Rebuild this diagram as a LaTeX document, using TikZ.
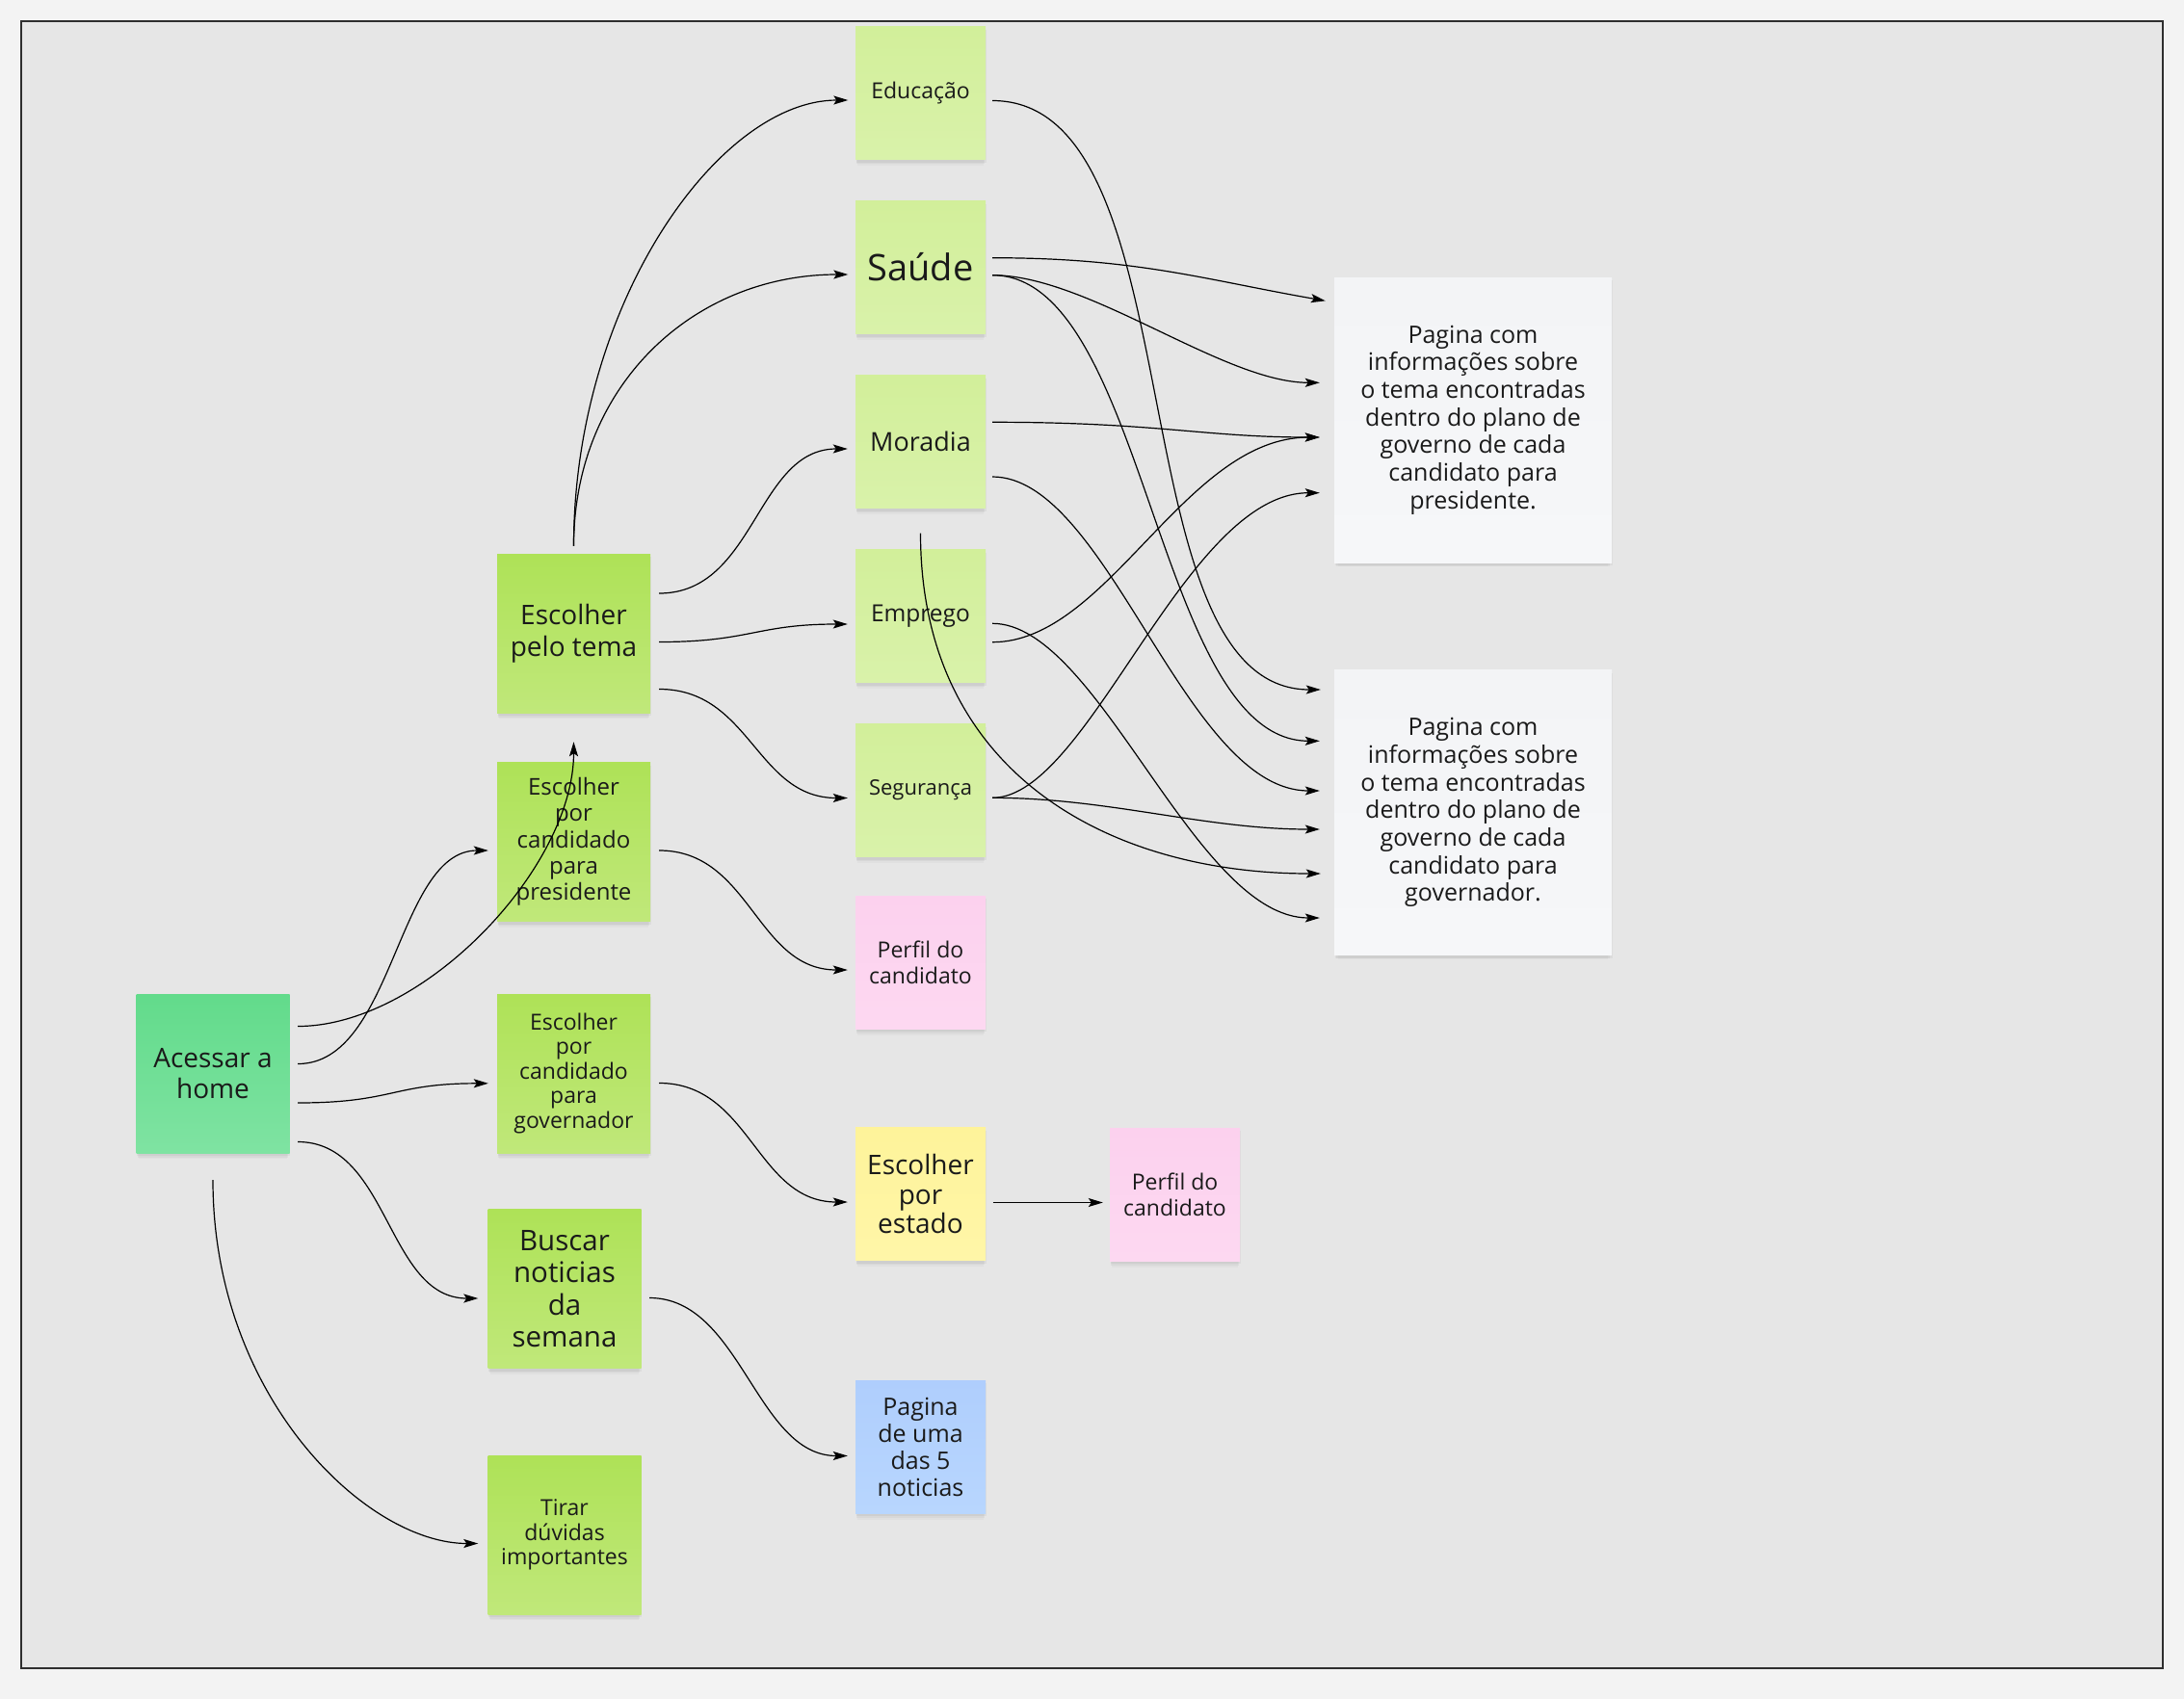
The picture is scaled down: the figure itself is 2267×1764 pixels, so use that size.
\documentclass[tikz,border=0pt]{standalone}
\usepackage{fontspec}
\setmainfont{Open Sans}
\usetikzlibrary{arrows.meta,shadows}
\definecolor{bgout}{HTML}{F3F3F3}
\definecolor{bgin}{HTML}{E6E6E6}
\definecolor{frame}{HTML}{2E2E2E}
\definecolor{txt}{HTML}{1A1A1A}
\definecolor{lgA}{HTML}{D2EF9A}
\definecolor{lgB}{HTML}{D9F2AA}
\definecolor{gA}{HTML}{AEE257}
\definecolor{gB}{HTML}{C0E87A}
\definecolor{hA}{HTML}{62DB8B}
\definecolor{hB}{HTML}{7FE3A2}
\definecolor{pkA}{HTML}{FCD1EE}
\definecolor{pkB}{HTML}{FDD8F1}
\definecolor{ylA}{HTML}{FEF39A}
\definecolor{ylB}{HTML}{FFF6A8}
\definecolor{blA}{HTML}{AFCEFD}
\definecolor{blB}{HTML}{B8D6FE}
\definecolor{wtA}{HTML}{F3F4F6}
\definecolor{wtB}{HTML}{F6F7F9}
\tikzset{
  note/.style={rectangle, inner sep=0pt, align=center, text=txt,
    drop shadow={shadow xshift=0pt, shadow yshift=-9pt, shadow scale=0.97, opacity=0.025, fill=black},
    drop shadow={shadow xshift=0pt, shadow yshift=-6pt, shadow scale=0.985, opacity=0.035, fill=black},
    drop shadow={shadow xshift=0.5pt, shadow yshift=-3pt, opacity=0.045, fill=black}},
  themebox/.style={note, minimum width=135pt, minimum height=138pt, top color=lgA, bottom color=lgB},
  midbox/.style={note, minimum width=159pt, minimum height=165pt, top color=gA, bottom color=gB},
  homebox/.style={note, minimum width=159pt, minimum height=165pt, top color=hA, bottom color=hB},
  pinkbox/.style={note, minimum width=135pt, minimum height=138pt, top color=pkA, bottom color=pkB},
  yellowbox/.style={note, minimum width=135pt, minimum height=138pt, top color=ylA, bottom color=ylB},
  bluebox/.style={note, minimum width=135pt, minimum height=138pt, top color=blA, bottom color=blB},
  pagebox/.style={note, minimum width=288pt, minimum height=296pt, top color=wtA, bottom color=wtB},
  conn/.style={draw=black, line width=1.2pt, -{Stealth[length=15pt,width=9pt,inset=3pt]}},
}
\newcommand{\fs}[2]{\fontsize{#1}{#2}\selectfont}
\begin{document}
\begin{tikzpicture}[x=1pt,y=1pt]
\useasboundingbox (0,0) rectangle (2267,-1764);
\fill[bgout] (0,0) rectangle (2267,-1764);
\draw[fill=bgin, draw=frame, line width=2pt] (21.7,-21.7) rectangle (2245,-1732);

% theme column
\node[themebox, font=\fs{23}{26}] (edu) at (955.5,-96.5) {Educação};
\node[themebox, font=\fs{38}{42}] (sau) at (955.5,-277.5) {Saúde};
\node[themebox, font=\fs{27}{30}] (mor) at (955.5,-458.5) {Moradia};
\node[themebox, font=\fs{24.5}{28}] (emp) at (955.5,-639.5) {Emprego};
\node[themebox, font=\fs{22}{26}] (seg) at (955.5,-820.5) {Segurança};
\node[pinkbox, font=\fs{23}{26.7}] (per1) at (955.5,-999) {Perfil do\\candidato};
\node[yellowbox, font=\fs{28}{30.7}] (est) at (955.5,-1239.5) {Escolher\\por\\estado};
\node[pinkbox, font=\fs{23}{26.7}] (per2) at (1219.5,-1240) {Perfil do\\candidato};
\node[bluebox, font=\fs{25}{28}] (noti) at (955.5,-1502) {Pagina\\de uma\\das 5\\noticias};

% middle column
\node[midbox, font=\fs{28}{33}] (tema) at (595.5,-657.5) {Escolher\\pelo tema};
\node[midbox, font=\fs{24}{27.3}] (pres) at (595.5,-874) {Escolher\\por\\candidado\\para\\presidente};
\node[midbox, font=\fs{23}{25.5}] (gov) at (595.5,-1114.5) {Escolher\\por\\candidado\\para\\governador};
\node[midbox, font=\fs{29.5}{33.6}] (busc) at (586,-1338) {Buscar\\noticias\\da\\semana};
\node[midbox, font=\fs{23}{25.8}] (tir) at (586,-1593.5) {Tirar\\dúvidas\\importantes};

% home
\node[homebox, font=\fs{28}{32}] (acc) at (221,-1114.5) {Acessar a\\home};

% pages
\node[pagebox, font=\fs{25}{28.7}] (pp) at (1529,-436) {Pagina com\\informações sobre\\o tema encontradas\\dentro do plano de\\governo de cada\\candidato para\\presidente.};
\node[pagebox, font=\fs{25}{28.7}] (pg) at (1529,-843.7) {Pagina com\\informações sobre\\o tema encontradas\\dentro do plano de\\governo de cada\\candidato para\\governador.};

% connectors from home
\draw[conn] ([xshift=8.5pt,yshift=49pt]acc.east) .. controls +(131,0) and +(0,-130) .. ([yshift=-30pt]tema.south);
\draw[conn] ([xshift=8.5pt,yshift=10pt]acc.east) .. controls +(100,0) and +(-95,0) .. ([xshift=-9pt,yshift=-9pt]pres.west);
\draw[conn] ([xshift=8.5pt,yshift=-30.5pt]acc.east) .. controls +(100,0) and +(-100,0) .. ([xshift=-9pt,yshift=-10.3pt]gov.west);
\draw[conn] ([xshift=8.5pt,yshift=-71pt]acc.east) .. controls +(95,0) and +(-95,0) .. ([xshift=-10pt,yshift=-10pt]busc.west);
\draw[conn] ([yshift=-28pt]acc.south) .. controls +(0,-225) and +(-116,0) .. ([xshift=-10pt,yshift=-9pt]tir.west);

% connectors from tema
\draw[conn] ([yshift=8pt]tema.north) .. controls +(0,250) and +(-135,0) .. ([xshift=-7.5pt,yshift=-7.5pt]edu.west);
\draw[conn] ([yshift=8pt]tema.north) .. controls +(0,167) and +(-160,0) .. ([xshift=-7.5pt,yshift=-7.5pt]sau.west);
\draw[conn] ([xshift=9pt,yshift=41.5pt]tema.east) .. controls +(100,0) and +(-95,0) .. ([xshift=-8pt,yshift=-7.5pt]mor.west);
\draw[conn] ([xshift=9pt,yshift=-9pt]tema.east) .. controls +(95,0) and +(-95,0) .. ([xshift=-8pt,yshift=-8.5pt]emp.west);
\draw[conn] ([xshift=9pt,yshift=-58pt]tema.east) .. controls +(95,0) and +(-95,0) .. ([xshift=-8pt,yshift=-8pt]seg.west);

% others on the left
\draw[conn] ([xshift=9pt,yshift=-9pt]pres.east) .. controls +(95,0) and +(-95,0) .. ([xshift=-8pt,yshift=-8pt]per1.west);
\draw[conn] ([xshift=9pt,yshift=-10pt]gov.east) .. controls +(95,0) and +(-95,0) .. ([xshift=-8pt,yshift=-8.5pt]est.west);
\draw[conn] ([xshift=7.5pt,yshift=-9pt]est.east) -- ([xshift=-7pt,yshift=-8.5pt]per2.west);
\draw[conn] ([xshift=8.5pt,yshift=-9.5pt]busc.east) .. controls +(95,0) and +(-95,0) .. ([xshift=-8pt,yshift=-9.5pt]noti.west);

% connectors to the pages
\draw[conn] ([xshift=7pt,yshift=-8pt]edu.east) .. controls +(215,0) and +(-215,0) .. ([xshift=-14pt,yshift=127.7pt]pg.west);
\draw[conn] ([xshift=7pt,yshift=9.8pt]sau.east) .. controls +(150,0) and +(-126,22) .. ([xshift=-9pt,yshift=123.7pt]pp.west);
\draw[conn] ([xshift=7pt,yshift=-8.2pt]sau.east) .. controls +(100,0) and +(-100,0) .. ([xshift=-15pt,yshift=38.7pt]pp.west);
\draw[conn] ([xshift=7pt,yshift=-8.2pt]sau.east) .. controls +(160,0) and +(-170,0) .. ([xshift=-15pt,yshift=74.4pt]pg.west);
\draw[conn] ([xshift=7pt,yshift=20.2pt]mor.east) .. controls +(170,0) and +(-120,0) .. ([xshift=-15pt,yshift=-18pt]pp.west);
\draw[conn] ([xshift=7pt,yshift=-27.2pt]emp.east) .. controls +(120,0) and +(-140,0) .. ([xshift=-15pt,yshift=-18pt]pp.west);
\draw[conn] ([xshift=7pt,yshift=-36.5pt]mor.east) .. controls +(120,0) and +(-140,0) .. ([xshift=-15pt,yshift=22.7pt]pg.west);
\draw[conn] ([xshift=7pt,yshift=-7.8pt]emp.east) .. controls +(110,0) and +(-130,0) .. ([xshift=-15pt,yshift=-109.3pt]pg.west);
\draw[conn] ([xshift=7pt,yshift=-7.8pt]seg.east) .. controls +(100,0) and +(-140,0) .. ([xshift=-15pt,yshift=-75.7pt]pp.west);
\draw[conn] ([xshift=7pt,yshift=-7.8pt]seg.east) .. controls +(120,0) and +(-120,0) .. ([xshift=-15pt,yshift=-17.3pt]pg.west);
\draw[conn] ([yshift=-26pt]mor.south) .. controls +(0,-248) and +(-221,0) .. ([xshift=-14pt,yshift=-63.3pt]pg.west);
\end{tikzpicture}
\end{document}
